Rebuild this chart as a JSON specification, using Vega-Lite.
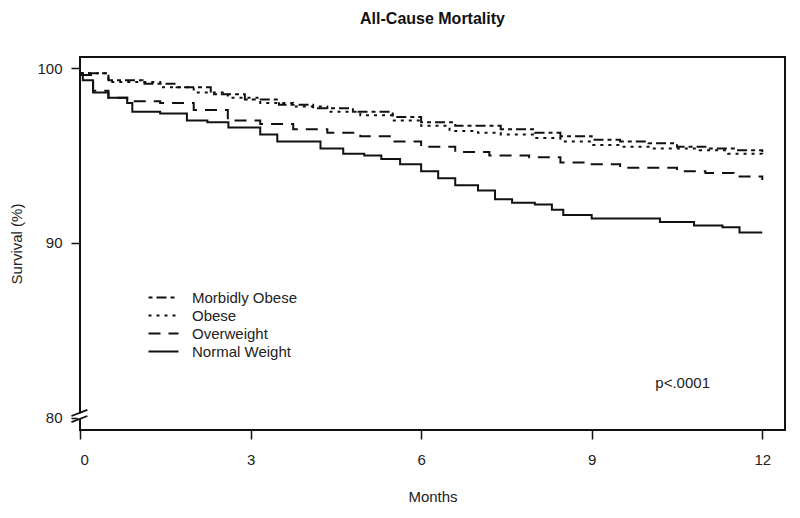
{
  "$schema": "https://vega.github.io/schema/vega-lite/v6.json",
  "width": 705,
  "height": 373,
  "autosize": "none",
  "padding": {"left": 80, "top": 57, "right": 15, "bottom": 88},
  "background": "white",
  "config": {
    "font": "Liberation Sans",
    "view": {"stroke": "#111", "strokeWidth": 2},
    "axis": {"domain": false, "grid": false, "tickColor": "#111", "tickWidth": 1.5, "tickSize": 9, "labelFont": "Liberation Sans", "labelFontSize": 15, "labelColor": "#222", "titleFont": "Liberation Sans", "titleFontSize": 15, "titleFontWeight": "normal", "titleColor": "#222"}
  },
  "title": {"text": "All-Cause Mortality", "fontSize": 16, "fontWeight": "bold", "font": "Liberation Sans", "color": "#111", "anchor": "middle", "frame": "group", "offset": 30},
  "datasets": {
    "km": [
      {"group": "Normal Weight", "month": 0, "survival": 99.7},
      {"group": "Normal Weight", "month": 0.05, "survival": 99.3},
      {"group": "Normal Weight", "month": 0.23, "survival": 98.6},
      {"group": "Normal Weight", "month": 0.5, "survival": 98.3},
      {"group": "Normal Weight", "month": 0.83, "survival": 98.0},
      {"group": "Normal Weight", "month": 0.92, "survival": 97.5},
      {"group": "Normal Weight", "month": 1.41, "survival": 97.4},
      {"group": "Normal Weight", "month": 1.88, "survival": 97.0},
      {"group": "Normal Weight", "month": 2.24, "survival": 96.9},
      {"group": "Normal Weight", "month": 2.61, "survival": 96.6},
      {"group": "Normal Weight", "month": 3.17, "survival": 96.2},
      {"group": "Normal Weight", "month": 3.47, "survival": 95.8},
      {"group": "Normal Weight", "month": 4.23, "survival": 95.4},
      {"group": "Normal Weight", "month": 4.63, "survival": 95.1},
      {"group": "Normal Weight", "month": 5.0, "survival": 95.0},
      {"group": "Normal Weight", "month": 5.3, "survival": 94.8},
      {"group": "Normal Weight", "month": 5.63, "survival": 94.5},
      {"group": "Normal Weight", "month": 6.0, "survival": 94.1},
      {"group": "Normal Weight", "month": 6.3, "survival": 93.7},
      {"group": "Normal Weight", "month": 6.6, "survival": 93.3},
      {"group": "Normal Weight", "month": 7.0, "survival": 93.0},
      {"group": "Normal Weight", "month": 7.3, "survival": 92.5},
      {"group": "Normal Weight", "month": 7.6, "survival": 92.3},
      {"group": "Normal Weight", "month": 8.0, "survival": 92.2},
      {"group": "Normal Weight", "month": 8.3, "survival": 91.9},
      {"group": "Normal Weight", "month": 8.5, "survival": 91.6},
      {"group": "Normal Weight", "month": 9.0, "survival": 91.4},
      {"group": "Normal Weight", "month": 10.2, "survival": 91.2},
      {"group": "Normal Weight", "month": 10.8, "survival": 91.0},
      {"group": "Normal Weight", "month": 11.3, "survival": 90.9},
      {"group": "Normal Weight", "month": 11.6, "survival": 90.6},
      {"group": "Normal Weight", "month": 12.0, "survival": 90.6},
      {"group": "Overweight", "month": 0, "survival": 99.6},
      {"group": "Overweight", "month": 0.23, "survival": 98.7},
      {"group": "Overweight", "month": 0.5, "survival": 98.3},
      {"group": "Overweight", "month": 0.83, "survival": 98.1},
      {"group": "Overweight", "month": 1.41, "survival": 98.0},
      {"group": "Overweight", "month": 2.0, "survival": 97.6},
      {"group": "Overweight", "month": 2.6, "survival": 97.0},
      {"group": "Overweight", "month": 3.17, "survival": 96.8},
      {"group": "Overweight", "month": 3.75, "survival": 96.5},
      {"group": "Overweight", "month": 4.35, "survival": 96.3},
      {"group": "Overweight", "month": 4.93, "survival": 96.1},
      {"group": "Overweight", "month": 5.5, "survival": 95.8},
      {"group": "Overweight", "month": 6.0, "survival": 95.5},
      {"group": "Overweight", "month": 6.6, "survival": 95.2},
      {"group": "Overweight", "month": 7.2, "survival": 95.0},
      {"group": "Overweight", "month": 7.9, "survival": 94.9},
      {"group": "Overweight", "month": 8.45, "survival": 94.6},
      {"group": "Overweight", "month": 9.0, "survival": 94.5},
      {"group": "Overweight", "month": 9.5, "survival": 94.3},
      {"group": "Overweight", "month": 10.5, "survival": 94.1},
      {"group": "Overweight", "month": 11.0, "survival": 94.0},
      {"group": "Overweight", "month": 11.5, "survival": 93.8},
      {"group": "Overweight", "month": 12.0, "survival": 93.6},
      {"group": "Obese", "month": 0, "survival": 99.7},
      {"group": "Obese", "month": 0.5, "survival": 99.2},
      {"group": "Obese", "month": 1.41, "survival": 98.9},
      {"group": "Obese", "month": 2.0, "survival": 98.6},
      {"group": "Obese", "month": 2.6, "survival": 98.3},
      {"group": "Obese", "month": 3.17, "survival": 98.0},
      {"group": "Obese", "month": 3.75, "survival": 97.8},
      {"group": "Obese", "month": 4.35, "survival": 97.5},
      {"group": "Obese", "month": 4.93, "survival": 97.3},
      {"group": "Obese", "month": 5.5, "survival": 97.0},
      {"group": "Obese", "month": 6.0, "survival": 96.7},
      {"group": "Obese", "month": 6.5, "survival": 96.4},
      {"group": "Obese", "month": 7.0, "survival": 96.3},
      {"group": "Obese", "month": 7.4, "survival": 96.2},
      {"group": "Obese", "month": 8.0, "survival": 96.0},
      {"group": "Obese", "month": 8.45, "survival": 95.8},
      {"group": "Obese", "month": 9.0, "survival": 95.6},
      {"group": "Obese", "month": 9.5, "survival": 95.5},
      {"group": "Obese", "month": 10.0, "survival": 95.4},
      {"group": "Obese", "month": 10.9, "survival": 95.3},
      {"group": "Obese", "month": 11.4, "survival": 95.1},
      {"group": "Obese", "month": 12.0, "survival": 95.0},
      {"group": "Morbidly Obese", "month": 0, "survival": 99.7},
      {"group": "Morbidly Obese", "month": 0.5, "survival": 99.3},
      {"group": "Morbidly Obese", "month": 1.1, "survival": 99.1},
      {"group": "Morbidly Obese", "month": 1.7, "survival": 98.9},
      {"group": "Morbidly Obese", "month": 2.3, "survival": 98.5},
      {"group": "Morbidly Obese", "month": 2.9, "survival": 98.2},
      {"group": "Morbidly Obese", "month": 3.5, "survival": 97.9},
      {"group": "Morbidly Obese", "month": 4.1, "survival": 97.7},
      {"group": "Morbidly Obese", "month": 4.8, "survival": 97.5},
      {"group": "Morbidly Obese", "month": 5.5, "survival": 97.2},
      {"group": "Morbidly Obese", "month": 6.0, "survival": 96.9},
      {"group": "Morbidly Obese", "month": 6.6, "survival": 96.7},
      {"group": "Morbidly Obese", "month": 7.4, "survival": 96.5},
      {"group": "Morbidly Obese", "month": 8.0, "survival": 96.3},
      {"group": "Morbidly Obese", "month": 8.45, "survival": 96.1},
      {"group": "Morbidly Obese", "month": 9.0, "survival": 95.9},
      {"group": "Morbidly Obese", "month": 9.5, "survival": 95.8},
      {"group": "Morbidly Obese", "month": 10.0, "survival": 95.7},
      {"group": "Morbidly Obese", "month": 10.5, "survival": 95.5},
      {"group": "Morbidly Obese", "month": 11.0, "survival": 95.4},
      {"group": "Morbidly Obese", "month": 11.5, "survival": 95.3},
      {"group": "Morbidly Obese", "month": 12.0, "survival": 95.2}
    ],
    "note": [{"label": "p<.0001"}],
    "brk": [{"x1": -0.15, "y1": 80.1, "x2": 0.13, "y2": 80.45}, {"x1": -0.15, "y1": 79.75, "x2": 0.13, "y2": 80.1}]
  },
  "layer": [
    {
      "data": {"name": "km"},
      "mark": {"type": "line", "interpolate": "step-after", "strokeWidth": 2, "color": "#111"},
      "encoding": {
        "x": {"field": "month", "type": "quantitative", "scale": {"domain": [0, 12.4], "nice": false, "zero": false}, "axis": {"values": [0, 3, 6, 9, 12], "format": "d", "title": "Months", "labelPadding": 13, "titlePadding": 22}},
        "y": {"field": "survival", "type": "quantitative", "scale": {"domain": [79.3, 100.63], "nice": false, "zero": false}, "axis": {"values": [80, 90, 100], "title": "Survival (%)", "labelPadding": 9, "titlePadding": 12}},
        "strokeDash": {
          "field": "group", "type": "nominal",
          "scale": {"domain": ["Morbidly Obese", "Obese", "Overweight", "Normal Weight"], "range": [[4, 4, 10, 4], [3, 5], [12, 8], [1, 0]]},
          "legend": {"title": null, "orient": "none", "legendX": 75, "legendY": 232, "symbolType": "M-2,0H2", "symbolSize": 225, "symbolStrokeWidth": 2, "symbolStrokeColor": "#111", "symbolFillColor": "transparent", "labelFontSize": 15, "labelColor": "#222", "labelFont": "Liberation Sans", "labelOffset": 20, "rowPadding": 1}
        }
      }
    },
    {
      "data": {"name": "note"},
      "mark": {"type": "text", "fontSize": 15, "color": "#222", "align": "center", "baseline": "middle"},
      "encoding": {"x": {"datum": 10.6}, "y": {"datum": 82.0}, "text": {"field": "label"}}
    },
    {
      "data": {"values": [{"a": 1}]},
      "mark": {"type": "rule", "color": "white", "strokeWidth": 5},
      "encoding": {"x": {"datum": 0}, "y": {"datum": 79.95}, "y2": {"datum": 80.25}}
    },
    {
      "data": {"name": "brk"},
      "mark": {"type": "rule", "color": "#111", "strokeWidth": 1.8},
      "encoding": {"x": {"field": "x1", "type": "quantitative"}, "y": {"field": "y1", "type": "quantitative"}, "x2": {"field": "x2"}, "y2": {"field": "y2"}}
    }
  ]
}
